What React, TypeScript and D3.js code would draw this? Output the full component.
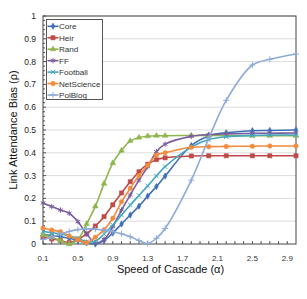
import React, { useRef, useEffect } from "react";
import * as d3 from "d3";

// x positions of the samples (alpha)
const ALPHAS = [0.1, 0.2, 0.3, 0.4, 0.5, 0.6, 0.7, 0.8, 0.9, 1.0, 1.1, 1.2, 1.3, 1.4, 1.5, 1.8, 2.0, 2.2, 2.5, 2.7, 3.0];

const CORE = [0.04, 0.037, 0.032, 0.025, 0.015, 0.005, 0.0, 0.015, 0.048, 0.088, 0.127, 0.166, 0.21, 0.252, 0.298, 0.432, 0.474, 0.488, 0.497, 0.498, 0.5];
const HEIR = [0.03, 0.022, 0.016, 0.006, 0.02, 0.044, 0.079, 0.12, 0.172, 0.224, 0.273, 0.317, 0.35, 0.37, 0.378, 0.386, 0.387, 0.387, 0.387, 0.387, 0.387];
const RAND = [0.04, 0.03, 0.015, 0.0, 0.02, 0.088, 0.165, 0.265, 0.355, 0.41, 0.452, 0.467, 0.473, 0.475, 0.475, 0.476, 0.476, 0.476, 0.475, 0.475, 0.475];
const FF = [0.18, 0.164, 0.149, 0.135, 0.098, 0.045, 0.005, 0.02, 0.076, 0.149, 0.215, 0.28, 0.339, 0.405, 0.438, 0.472, 0.48, 0.483, 0.485, 0.486, 0.487];
const FOOTBALL = [0.055, 0.05, 0.045, 0.035, 0.025, 0.01, 0.012, 0.044, 0.083, 0.127, 0.171, 0.213, 0.255, 0.298, 0.339, 0.425, 0.458, 0.47, 0.476, 0.478, 0.478];
const NETSCIENCE = [0.07, 0.061, 0.054, 0.035, 0.02, 0.006, 0.03, 0.062, 0.113, 0.185, 0.244, 0.3, 0.345, 0.39, 0.4, 0.424, 0.427, 0.428, 0.429, 0.43, 0.43];
const POLBLOG = [0.02, 0.03, 0.045, 0.055, 0.063, 0.066, 0.065, 0.06, 0.055, 0.045, 0.032, 0.015, 0.002, 0.025, 0.068, 0.28, 0.463, 0.63, 0.785, 0.81, 0.833];

const SERIES_NAMES = ["Core", "Heir", "Rand", "FF", "Football", "NetScience", "PolBlog"];
const SERIES_VALUES = [CORE, HEIR, RAND, FF, FOOTBALL, NETSCIENCE, POLBLOG];
const COLORS = ["#3f6fb5", "#be4b48", "#8fb54f", "#7a5c9e", "#43a7c0", "#f38b3d", "#8eabd8"];

const X_TICKS = [0.1, 0.5, 0.9, 1.3, 1.7, 2.1, 2.5, 2.9];
const Y_TICKS = [0, 0.1, 0.2, 0.3, 0.4, 0.5, 0.6, 0.7, 0.8, 0.9, 1];

const WIDTH = 307;
const HEIGHT = 299;
const FONT = "Liberation Sans, Arial, sans-serif";

// marker type per series: [symbol, filled]
const MARKERS: [d3.SymbolType, boolean, number][] = [
  [d3.symbolDiamond, true, 12],
  [d3.symbolSquare, true, 18],
  [d3.symbolTriangle, true, 14],
  [d3.symbolAsterisk, false, 20],
  [d3.symbolTimes, false, 14],
  [d3.symbolCircle, true, 16],
  [d3.symbolPlus, false, 14]
];

export default function App() {
  const svgRef = useRef<SVGSVGElement>(null);

  useEffect(() => {
    const svg = d3.select(svgRef.current);
    svg.selectAll("*").remove();

    const x = d3.scaleLinear().domain([0.1, 3.0]).range([43, 296]);
    const y = d3.scaleLinear().domain([0, 1]).range([244, 16]);

    svg.append("rect").attr("width", WIDTH).attr("height", HEIGHT).attr("fill", "#fff");

    // gridlines
    svg.append("g")
      .selectAll("line")
      .data(Y_TICKS.slice(1))
      .join("line")
      .attr("x1", x(0.1))
      .attr("x2", x(3.0))
      .attr("y1", (d) => y(d))
      .attr("y2", (d) => y(d))
      .attr("stroke", "#dcdcdc")
      .attr("stroke-width", 1);

    // minor ticks
    const xMinor = d3.range(1, 30).map((i) => i / 10);
    svg.append("g")
      .selectAll("line")
      .data(xMinor)
      .join("line")
      .attr("x1", (d) => x(d))
      .attr("x2", (d) => x(d))
      .attr("y1", y(0))
      .attr("y2", y(0) - 3)
      .attr("stroke", "#555");
    const yMinor = d3.range(0, 51).map((i) => i / 50);
    svg.append("g")
      .selectAll("line")
      .data(yMinor)
      .join("line")
      .attr("x1", x(0.1))
      .attr("x2", (d, i) => x(0.1) + (i % 5 === 0 ? 3 : 2))
      .attr("y1", (d) => y(d))
      .attr("y2", (d) => y(d))
      .attr("stroke", "#555");

    // frame
    svg.append("rect")
      .attr("x", x(0.1))
      .attr("y", y(1))
      .attr("width", x(3.0) - x(0.1))
      .attr("height", y(0) - y(1))
      .attr("fill", "none")
      .attr("stroke", "#444")
      .attr("stroke-width", 1);

    // tick labels
    svg.append("g")
      .selectAll("text")
      .data(X_TICKS)
      .join("text")
      .attr("x", (d) => x(d))
      .attr("y", 261)
      .attr("text-anchor", "middle")
      .style("font-family", FONT)
      .style("font-size", "8px")
      .style("fill", "#333")
      .text((d) => d3.format(".1f")(d));

    svg.append("g")
      .selectAll("text")
      .data(Y_TICKS)
      .join("text")
      .attr("x", 36)
      .attr("y", (d) => y(d) + 3)
      .attr("text-anchor", "end")
      .style("font-family", FONT)
      .style("font-size", "8.5px")
      .style("fill", "#222")
      .text((d) => (d === 0 || d === 1 ? String(d) : d3.format(".1f")(d)));

    // axis titles
    svg.append("text")
      .attr("x", 170.5)
      .attr("y", 273)
      .attr("text-anchor", "middle")
      .style("font-family", FONT)
      .style("font-size", "11px")
      .style("fill", "#111")
      .text("Speed of Cascade (α)");

    svg.append("text")
      .attr("transform", "translate(16.5,130) rotate(-90)")
      .attr("text-anchor", "middle")
      .style("font-family", FONT)
      .style("font-size", "11px")
      .style("fill", "#111")
      .text("Link Attendance Bias (ρ)");

    const line = d3.line<number>()
      .x((d, i) => x(ALPHAS[i]))
      .y((d) => y(Math.max(0, d)))
      .curve(d3.curveCatmullRom.alpha(0.5));

    const plot = svg.append("g");
    SERIES_VALUES.forEach((vals, s) => {
      const color = COLORS[s];
      plot.append("path")
        .datum(vals)
        .attr("d", line)
        .attr("fill", "none")
        .attr("stroke", color)
        .attr("stroke-width", 1.6);
      const [type, filled, size] = MARKERS[s];
      const sym = d3.symbol().type(type).size(size);
      plot.append("g")
        .selectAll("path")
        .data(vals)
        .join("path")
        .attr("transform", (d, i) => `translate(${x(ALPHAS[i])},${y(d)})`)
        .attr("d", sym)
        .attr("fill", filled ? color : "none")
        .attr("stroke", color)
        .attr("stroke-width", filled ? 0.5 : 1);
    });

    // legend
    const legend = svg.append("g");
    legend.append("rect")
      .attr("x", 46.5)
      .attr("y", 19.5)
      .attr("width", 56)
      .attr("height", 80)
      .attr("fill", "#fff")
      .attr("stroke", "#555")
      .attr("stroke-width", 1);
    SERIES_NAMES.forEach((name, s) => {
      const cy = 26.3 + s * 11.45;
      const color = COLORS[s];
      legend.append("line")
        .attr("x1", 47.5)
        .attr("x2", 58.5)
        .attr("y1", cy)
        .attr("y2", cy)
        .attr("stroke", color)
        .attr("stroke-width", 1.6);
      const [type, filled, size] = MARKERS[s];
      legend.append("path")
        .attr("transform", `translate(53,${cy})`)
        .attr("d", d3.symbol().type(type).size(size)())
        .attr("fill", filled ? color : "none")
        .attr("stroke", color)
        .attr("stroke-width", filled ? 0.5 : 1);
      legend.append("text")
        .attr("x", 59)
        .attr("y", cy + 3)
        .style("font-family", FONT)
        .style("font-size", "8.1px")
        .style("fill", "#333")
        .text(name);
    });
  }, []);

  return (
    <svg
      ref={svgRef}
      width={WIDTH}
      height={HEIGHT}
      style={{ position: "absolute", left: 0, top: 0 }}
    />
  );
}
